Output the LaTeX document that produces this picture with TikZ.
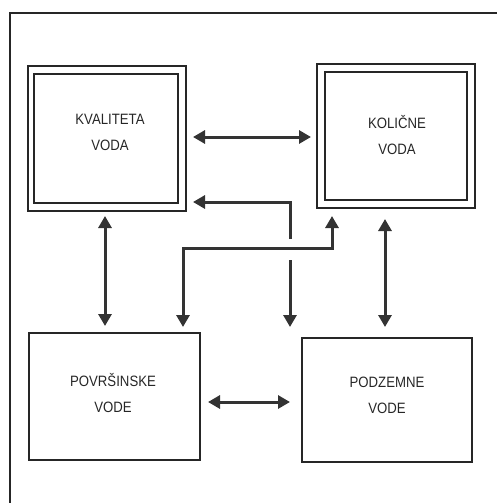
\documentclass[tikz,border=0pt]{standalone}
\usepackage{fontspec}
\setmainfont{Liberation Sans}[FakeStretch=0.88]
\usetikzlibrary{arrows.meta}
\begin{document}
\begin{tikzpicture}[x=1pt,y=-1pt,
  boxline/.style={draw=black!85,line width=2.8pt},
  conn/.style={draw=black!80,line width=3pt},
  arr/.style={conn,-{Triangle[length=12pt,width=13pt]}},
  darr/.style={conn,{Triangle[length=12pt,width=13pt]}-{Triangle[length=12pt,width=13pt]}},
  lbl/.style={font=\fontsize{15}{26}\selectfont,align=center,text=black!85}]
\useasboundingbox (0,0) rectangle (497,503);
% frame
\draw[black!85,line width=2pt] (497,13) -- (10,13) -- (10,503);
% double boxes
\draw[boxline] (28,66) rectangle (186,211);
\draw[boxline] (34,74) rectangle (178,203);
\node[lbl] (kval) at (110,132) {KVALITETA\\VODA};
\draw[boxline] (317,64) rectangle (475,208);
\draw[boxline] (325,72) rectangle (467,200);
\node[lbl] (koli) at (397,135) {KOLIČNE\\VODA};
% single boxes
\draw[boxline] (29,333) rectangle (200,460);
\node[lbl] (povr) at (113,393) {POVRŠINSKE\\VODE};
\draw[boxline] (302,338) rectangle (472,462);
\node[lbl] (podz) at (387,395) {PODZEMNE\\VODE};
% named ends
\coordinate (a1) at (193,137); \coordinate (a2) at (311,137);
\coordinate (b1) at (105,216); \coordinate (b2) at (105,326);
\coordinate (c1) at (385,219); \coordinate (c2) at (385,327);
\coordinate (d1) at (208,402); \coordinate (d2) at (290,402);
\coordinate (e0) at (290,239); \coordinate (e1) at (290,202); \coordinate (e2) at (193,202);
\coordinate (f0) at (290,260); \coordinate (f1) at (290,327);
\coordinate (g1) at (183,327); \coordinate (g2) at (183,248); \coordinate (g3) at (332,248); \coordinate (g4) at (332,216);
% connectors
\draw[darr] (a1) -- (a2);
\draw[darr] (b1) -- (b2);
\draw[darr] (c1) -- (c2);
\draw[darr] (d1) -- (d2);
\draw[arr] (e0) -- (e1) -- (e2);
\draw[arr] (f0) -- (f1);
\draw[darr] (g1) -- (g2) -- (g3) -- (g4);
\end{tikzpicture}
\end{document}
